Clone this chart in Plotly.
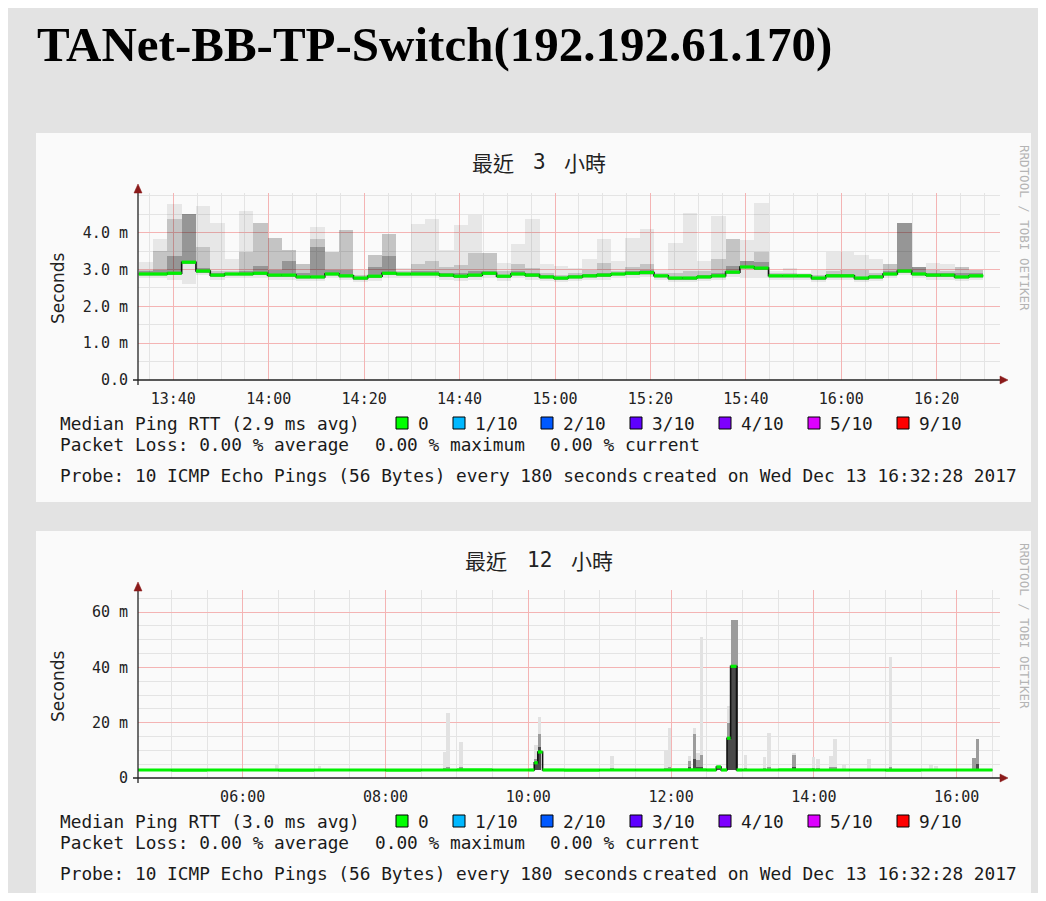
import plotly.graph_objects as go
import pandas as pd

# ---------------- data ----------------
DAY = '2017-12-13 '

# Top chart: 3-minute steps starting 13:32:45 (values in ms)
top_start = DAY + '13:32:45'
top_median = [2.88, 2.88, 2.90, 3.20, 2.96, 2.85, 2.88, 2.88, 2.90, 2.85,
              2.85, 2.80, 2.80, 2.88, 2.83, 2.77, 2.82, 2.90, 2.88, 2.88,
              2.88, 2.85, 2.82, 2.85, 2.90, 2.82, 2.88, 2.85, 2.80, 2.77,
              2.80, 2.83, 2.85, 2.88, 2.90, 2.92, 2.83, 2.77, 2.77, 2.80,
              2.83, 2.93, 3.07, 3.04, 2.83, 2.83, 2.83, 2.77, 2.83, 2.83,
              2.77, 2.80, 2.88, 2.96, 2.88, 2.85, 2.85, 2.80, 2.83]
top_light = [3.20, 3.83, 4.78, 4.50, 4.73, 4.27, 3.30, 4.60, 4.27, 3.86,
             3.53, 3.15, 4.16, 3.48, 4.07, 3.00, 3.40, 3.97, 3.04, 4.24,
             4.37, 3.53, 4.20, 4.48, 3.45, 3.18, 3.70, 4.37, 3.15, 3.10,
             3.04, 3.30, 3.83, 3.23, 3.86, 4.10, 3.00, 3.72, 4.54, 3.23,
             4.46, 3.83, 3.80, 4.80, 2.95, 3.04, 2.90, 3.00, 3.48, 3.48,
             3.40, 3.28, 3.15, 4.27, 3.07, 3.18, 3.15, 3.07, 3.00]
top_mid = [3.00, 3.50, 4.37, 4.50, 3.60, 2.95, 2.95, 3.48, 4.27, 3.86,
           3.53, 3.15, 3.83, 3.48, 4.07, 2.85, 3.40, 3.97, 2.95, 3.15,
           3.23, 3.07, 3.12, 3.45, 3.45, 2.95, 3.15, 3.04, 2.90, 2.85,
           2.90, 3.00, 3.18, 2.95, 3.07, 3.15, 2.90, 2.90, 2.95, 2.95,
           3.28, 3.83, 3.23, 3.48, 2.90, 2.90, 2.88, 2.85, 2.95, 3.00,
           3.00, 2.90, 3.15, 4.27, 3.07, 3.00, 2.95, 3.07, 3.00]
top_dark = [2.95, 3.00, 3.37, 4.50, 3.05, 2.90, 2.90, 2.95, 3.10, 3.00,
            3.23, 2.90, 3.60, 3.00, 3.00, 2.80, 3.07, 3.37, 2.90, 2.95,
            2.95, 2.90, 2.90, 2.95, 2.95, 2.85, 2.95, 2.90, 2.85, 2.80,
            2.85, 2.88, 2.90, 2.90, 2.95, 3.00, 2.85, 2.80, 2.80, 2.85,
            2.90, 3.10, 3.23, 3.20, 2.85, 2.85, 2.85, 2.80, 2.88, 2.88,
            2.80, 2.85, 2.95, 4.27, 3.07, 2.90, 2.90, 2.90, 2.90]
top_low = [2.76, 2.76, 2.72, 2.62, 2.84, 2.73, 2.76, 2.76, 2.78, 2.73,
           2.73, 2.68, 2.68, 2.76, 2.71, 2.65, 2.70, 2.78, 2.76, 2.76,
           2.76, 2.73, 2.70, 2.73, 2.78, 2.70, 2.76, 2.73, 2.68, 2.65,
           2.68, 2.71, 2.73, 2.76, 2.78, 2.80, 2.71, 2.65, 2.65, 2.68,
           2.71, 2.81, 2.78, 2.78, 2.71, 2.71, 2.71, 2.65, 2.71, 2.71,
           2.65, 2.68, 2.76, 2.84, 2.76, 2.73, 2.73, 2.68, 2.71]

# Bottom chart: median step points and smoke spikes (ms)
bot_med_t = ['04:32', '05:00', '05:30', '06:00', '06:30', '07:00', '07:30', '08:00',
             '08:30', '09:00', '09:30', '10:00', '10:05', '10:08', '10:12', '10:30',
             '11:00', '11:30', '12:00', '12:30', '12:38', '12:42', '12:47', '12:50',
             '12:55', '13:00', '13:30', '14:00', '14:30', '15:00', '15:30', '16:00',
             '16:30']
bot_med_v = [2.90, 2.85, 2.90, 2.90, 2.85, 2.90, 2.90, 2.85,
             2.90, 2.95, 2.90, 2.90, 5.50, 9.40, 2.90, 2.85,
             2.90, 2.90, 2.95, 2.90, 4.00, 2.90, 14.4, 40.4,
             2.90, 2.90, 2.95, 2.90, 2.90, 2.85, 2.90, 2.90,
             2.90]
bot_smoke_t = ['06:27', '07:03', '08:48', '08:51', '09:02', '10:05', '10:08', '11:09',
               '11:54', '11:57', '12:14', '12:18', '12:21', '12:24', '12:38', '12:47',
               '12:50', '12:53', '13:01', '13:17', '13:21', '13:42', '13:58', '14:02',
               '14:13', '14:16', '14:24', '14:45', '15:03', '15:37', '15:41', '16:13',
               '16:16']
bot_light = [4.8, 4.5, 9.5, 23.5, 13.0, 12.0, 22.0, 8.0,
             10.0, 18.0, 8.0, 18.0, 9.0, 51.0, 5.0, 26.0,
             57.0, 57.0, 8.4, 7.7, 16.2, 9.0, 7.7, 7.0,
             8.0, 14.0, 4.8, 7.0, 43.7, 4.8, 4.5, 7.2,
             14.0]
bot_mid = [3.2, 3.2, 3.5, 4.0, 4.0, 7.0, 15.9, 3.5,
           3.5, 4.0, 6.0, 15.9, 6.6, 8.4, 4.5, 20.0,
           57.0, 57.0, 3.5, 3.5, 4.0, 8.4, 3.5, 3.5,
           4.0, 4.0, 3.2, 3.2, 4.0, 3.2, 3.2, 7.2,
           14.0]
bot_dark = [3.0, 3.0, 3.0, 3.0, 3.0, 5.5, 11.2, 3.0,
            3.0, 3.0, 4.0, 7.0, 4.0, 4.0, 4.0, 14.4,
            40.4, 40.4, 3.0, 3.0, 3.0, 4.0, 3.0, 3.0,
            3.0, 3.0, 3.0, 3.0, 3.0, 3.0, 3.0, 3.0,
            5.0]

top_yticks = [0, 1, 2, 3, 4]
top_yticktext = ['0.0', '1.0 m', '2.0 m', '3.0 m', '4.0 m']
bot_yticks = [0, 20, 40, 60]
bot_yticktext = ['0', '20 m', '40 m', '60 m']

legend_items = ['0', '1/10', '2/10', '3/10', '4/10', '5/10', '9/10']
legend_colors = ['#00ff00', '#00b8ff', '#0059ff', '#5e00ff', '#7e00ff', '#dd00ff', '#ff0000']

# ---------------- geometry helpers ----------------
W, H = 1030, 885
OX, OY = 8, 8


def px(X):
    return (X - OX) / W


def py(Y):
    return 1 - (Y - OY) / H


MONO = 'DejaVu Sans Mono'
STEP = pd.Timedelta(minutes=3)

fig = go.Figure()

# ---------------- top chart traces ----------------
t0 = pd.Timestamp(top_start)
top_x = [t0 + STEP * i for i in range(len(top_median))]
top_c = [t + STEP / 2 for t in top_x]


def smoke_bar(xc, lo, hi, color, xa, ya):
    fig.add_trace(go.Bar(x=xc, y=[h - l for h, l in zip(hi, lo)], base=lo,
                         width=180000, marker=dict(color=color, line=dict(width=0)),
                         xaxis=xa, yaxis=ya, showlegend=False, hoverinfo='skip'))


smoke_bar(top_c, top_low, top_light, 'rgba(0,0,0,0.075)', 'x', 'y')
smoke_bar(top_c, [m - 0.06 for m in top_median], top_mid, 'rgba(0,0,0,0.15)', 'x', 'y')
smoke_bar(top_c, [m - 0.04 for m in top_median], top_dark, 'rgba(0,0,0,0.23)', 'x', 'y')


def median_lines(xs, ys, xend, xa, ya):
    fig.add_trace(go.Scatter(x=list(xs) + [xend], y=list(ys) + [ys[-1]], mode='lines',
                             line=dict(color='#111111', width=1.6, shape='hv'),
                             xaxis=xa, yaxis=ya, showlegend=False, hoverinfo='skip'))
    gx, gy = [], []
    ends = list(xs[1:]) + [xend]
    for a, b, v in zip(xs, ends, ys):
        gx += [a, b, None]
        gy += [v, v, None]
    fig.add_trace(go.Scatter(x=gx, y=gy, mode='lines', line=dict(color='#00f000', width=3.2),
                             xaxis=xa, yaxis=ya, showlegend=False, hoverinfo='skip'))


median_lines(top_x, top_median, top_x[-1] + STEP, 'x', 'y')

# ---------------- bottom chart traces ----------------
bot_sx = [pd.Timestamp(DAY + t) + STEP / 2 for t in bot_smoke_t]
n = len(bot_smoke_t)
smoke_bar(bot_sx, [2.8] * n, bot_light, '#e2e2e2', 'x2', 'y2')
smoke_bar(bot_sx, [2.8] * n, bot_mid, '#9c9c9c', 'x2', 'y2')
smoke_bar(bot_sx, [2.8] * n, bot_dark, '#4a4a4a', 'x2', 'y2')
bot_mx = [pd.Timestamp(DAY + t) for t in bot_med_t]
median_lines(bot_mx[:-1], bot_med_v[:-1], bot_mx[-1], 'x2', 'y2')

# ---------------- axes ----------------
RED = '#f4b4b4'
GREY = '#e4e4e4'
tickfont = dict(family=MONO, size=15, color='#222222')

common_x = dict(type='date', tickformat='%H:%M', showgrid=True, gridcolor=RED, gridwidth=1,
                zeroline=False, showline=False, ticks='outside', ticklen=5,
                tickcolor='rgba(0,0,0,0)', tickfont=tickfont, fixedrange=True, automargin=False)
common_y = dict(showgrid=True, gridcolor=RED, gridwidth=1, zeroline=False, showline=False,
                ticks='outside', ticklen=6, tickcolor='rgba(0,0,0,0)', tickfont=tickfont,
                fixedrange=True, automargin=False)

fig.update_layout(
    xaxis=dict(common_x, domain=[px(138), px(1000)], anchor='y',
               range=[DAY + '13:32:36', DAY + '16:33:16'],
               tick0=DAY + '13:40', dtick=1200000,
               minor=dict(tick0=DAY + '13:40', dtick=300000, showgrid=True, gridcolor=GREY)),
    yaxis=dict(common_y, domain=[py(380), py(193)], anchor='x', range=[0, 5.08],
               tickmode='array', tickvals=top_yticks, ticktext=top_yticktext,
               minor=dict(tick0=0, dtick=0.5, showgrid=True, gridcolor=GREY)),
    xaxis2=dict(common_x, domain=[px(138), px(1000)], anchor='y2',
                range=[DAY + '04:32:01', DAY + '16:36:23'],
                tick0=DAY + '06:00', dtick=7200000,
                minor=dict(tick0=DAY + '06:00', dtick=1800000, showgrid=True, gridcolor=GREY)),
    yaxis2=dict(common_y, domain=[py(778), py(590)], anchor='x2', range=[0, 68],
                tickmode='array', tickvals=bot_yticks, ticktext=bot_yticktext,
                minor=dict(tick0=0, dtick=5, showgrid=True, gridcolor=GREY)),
    barmode='overlay', bargap=0,
    width=W, height=H, margin=dict(l=0, r=0, t=0, b=0, pad=0, autoexpand=False),
    paper_bgcolor='#e3e3e3', plot_bgcolor='#ffffff',
    showlegend=False,
)

# ---------------- decorations ----------------
shapes = []


def rect(x0, y0, x1, y1, fill, line=None, lw=0, layer='below'):
    shapes.append(dict(type='rect', xref='paper', yref='paper',
                       x0=px(x0), x1=px(x1), y0=py(y1), y1=py(y0),
                       fillcolor=fill, line=dict(color=line or fill, width=lw), layer=layer))


def line(x0, y0, x1, y1, color='#222222', w=1.3):
    shapes.append(dict(type='line', xref='paper', yref='paper',
                       x0=px(x0), x1=px(x1), y0=py(y0), y1=py(y1),
                       line=dict(color=color, width=w), layer='above'))


def tri(points, color='#8b1a1a'):
    path = 'M ' + ' L '.join(f'{px(a)},{py(b)}' for a, b in points) + ' Z'
    shapes.append(dict(type='path', xref='paper', yref='paper', path=path,
                       fillcolor=color, line=dict(color=color, width=0.5), layer='above'))


def txt(X, Y, s, size=17.8, color='#1a1a1a', xanchor='left', family=MONO, angle=0, weight='normal'):
    fig.add_annotation(x=px(X), y=py(Y), xref='paper', yref='paper', text=s, showarrow=False,
                       xanchor=xanchor, yanchor='middle', textangle=angle,
                       font=dict(family=family, size=size, color=color, weight=weight))


# title
txt(35, 45, 'TANet-BB-TP-Switch(192.192.61.170)', size=49, color='#000000',
    family='Liberation Serif', weight='bold')

for k, (dy, nhours, avg) in enumerate([(0, '3', '2.9'), (398, '12', '3.0')]):
    # panel
    rect(36, 133 + dy, 1031, 502 + dy, '#fafafa')
    # axis lines and arrows
    line(133, 380 + dy, 1000, 380 + dy)
    line(138, 385 + dy, 138, 191 + dy)
    tri([(1000, 376 + dy), (1008, 380 + dy), (1000, 384 + dy)])
    tri([(134, 193 + dy), (138, 184 + dy), (142, 193 + dy)])
    # chart title
    cjk = 'Noto Sans CJK TC'
    txt(493 - (7 if k else 0), 162 + dy, '最近', size=21, family=cjk, xanchor='center', color='#222222')
    txt(539, 162 + dy, nhours, size=21, family=MONO, xanchor='center', color='#222222')
    txt(585 + (7 if k else 0), 162 + dy, '小時', size=21, family=cjk, xanchor='center', color='#222222')
    # y title
    txt(58, 288 + dy, 'Seconds', size=17, family='DejaVu Sans', xanchor='center', angle=-90,
        color='#222222')
    # side credit
    txt(1025, 228 + dy, 'RRDTOOL / TOBI OETIKER', size=12.5, family=MONO, xanchor='center',
        angle=90, color='#b4b4b4')
    # legend
    txt(58, 423 + dy, f'Median Ping RTT ({avg} ms avg)')
    box_x = [396, 453, 541, 630, 719, 808, 897]
    for bx, lab, col in zip(box_x, legend_items, legend_colors):
        rect(bx, 417 + dy, bx + 12, 429 + dy, col, line='#000000', lw=1, layer='above')
        txt(bx + 20, 423 + dy, lab)
    txt(58, 444 + dy, 'Packet Loss: 0.00 % average')
    txt(373, 444 + dy, '0.00 % maximum')
    txt(548, 444 + dy, '0.00 % current')
    txt(58, 475 + dy, 'Probe: 10 ICMP Echo Pings (56 Bytes) every 180 seconds')
    txt(640, 475 + dy, 'created on Wed Dec 13 16:32:28 2017')

fig.update_layout(shapes=shapes)

fig.write_html("out.html")
